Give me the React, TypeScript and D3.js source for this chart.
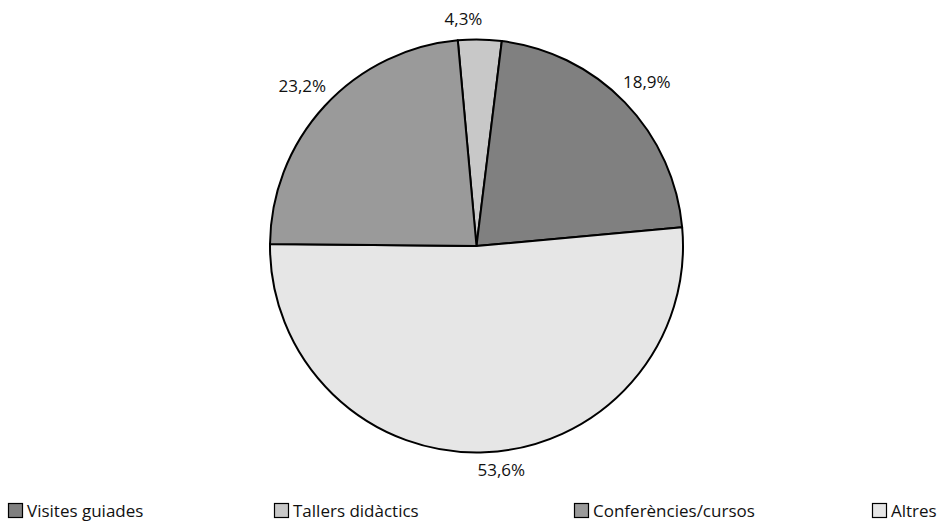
import React from "react";
import * as d3 from "d3";

const categories = ["Tallers didàctics", "Visites guiades", "Altres", "Conferències/cursos"];
// slice shares
const values = [3.4, 21.6, 51.6, 23.4];
const labels = ["4,3%", "18,9%", "53,6%", "23,2%"];
const colors = ["#c8c8c8", "#808080", "#e6e6e6", "#9a9a9a"];

const legendOrder = ["Visites guiades", "Tallers didàctics", "Conferències/cursos", "Altres"];
const legendX = [8, 274, 574, 872];

// label nudges (angle offset in degrees, radius)
const labelAngleShift = [-4.2, 0, -4, 0];
const labelRadius = [228, 237, 225, 237];

const W = 947;
const H = 522;
const cx = 476.5;
const cy = 246;
const R = 206.5;
const FONT = "'Open Sans', sans-serif";

export default function App() {
  const startDeg = -5.2;
  const pie = d3
    .pie<number>()
    .sort(null)
    .value((d) => d)
    .startAngle((startDeg * Math.PI) / 180)
    .endAngle(((startDeg + 360) * Math.PI) / 180);
  const arcs = pie(values);
  const arc = d3.arc<d3.PieArcDatum<number>>().innerRadius(0).outerRadius(R);

  return (
    <svg
      width={W}
      height={H}
      style={{ position: "absolute", left: 0, top: 0, background: "#fff" }}
      fontFamily={FONT}
    >
      <g transform={`translate(${cx},${cy})`}>
        {arcs.map((a, i) => (
          <path
            key={i}
            d={arc(a) || ""}
            fill={colors[i]}
            stroke="#000"
            strokeWidth={2}
            strokeLinejoin="round"
          />
        ))}
        {arcs.map((a, i) => {
          const mid = (a.startAngle + a.endAngle) / 2 + (labelAngleShift[i] * Math.PI) / 180;
          const r = labelRadius[i];
          const x = Math.sin(mid) * r;
          const y = -Math.cos(mid) * r;
          return (
            <text
              key={"l" + i}
              x={x}
              y={y}
              textAnchor="middle"
              dominantBaseline="central"
              fontSize={17}
              fill="#111"
            >
              {labels[i]}
            </text>
          );
        })}
      </g>
      <g>
        {legendOrder.map((name, i) => {
          const idx = categories.indexOf(name);
          const x = legendX[i];
          return (
            <g key={name} transform={`translate(${x},503)`}>
              <rect x={0.5} y={0.5} width={14} height={14} fill={colors[idx]} stroke="#000" strokeWidth={1.2} />
              <text x={19} y={14} fontSize={17} fill="#111">
                {name}
              </text>
            </g>
          );
        })}
      </g>
    </svg>
  );
}
